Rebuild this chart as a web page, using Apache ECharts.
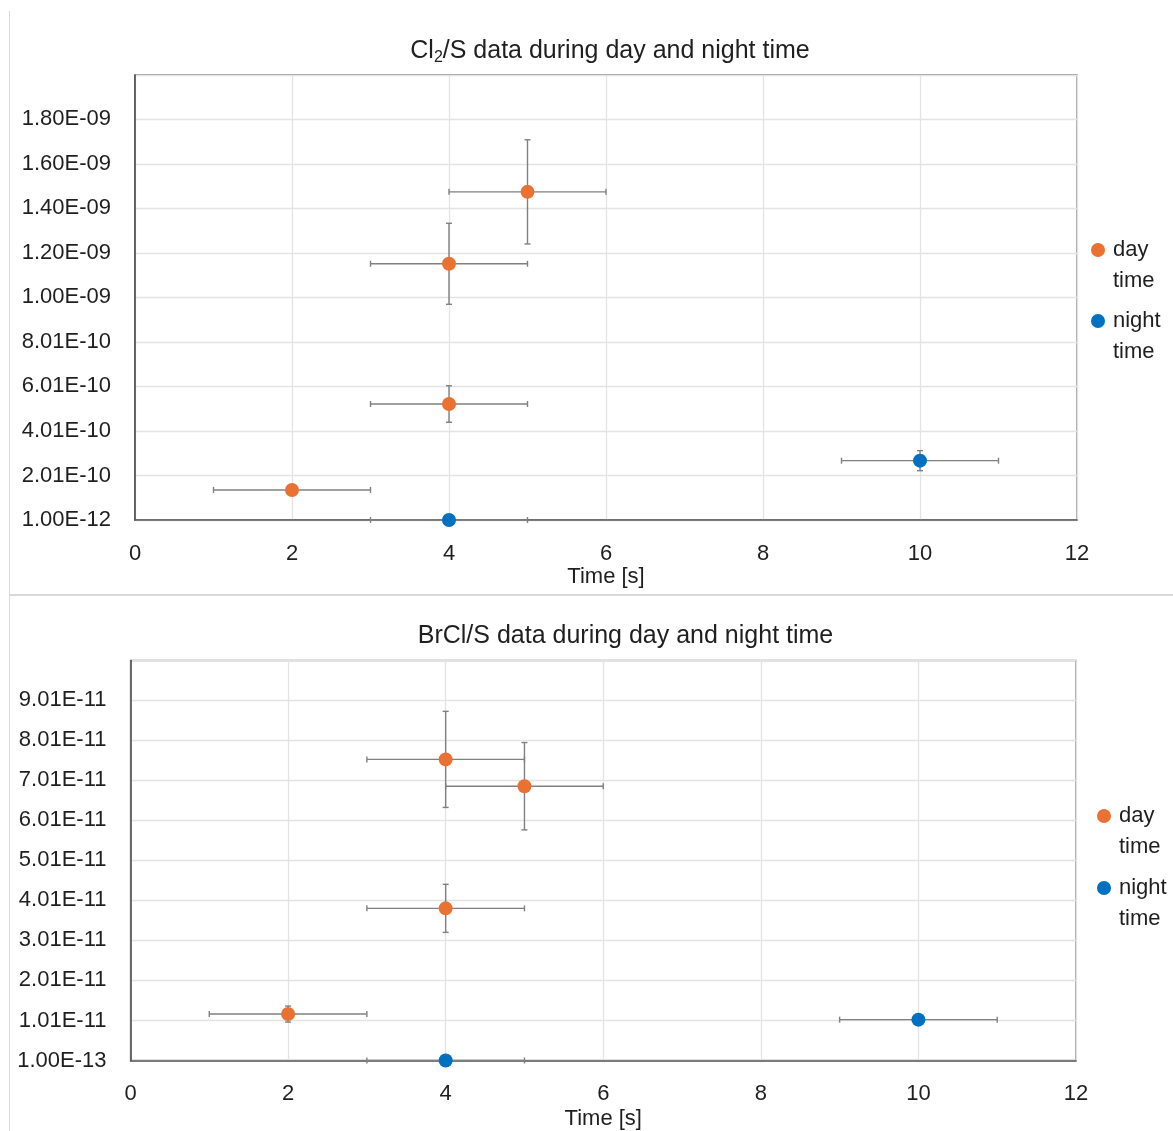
<!DOCTYPE html>
<html>
<head>
<meta charset="utf-8">
<script src="https://cdn.jsdelivr.net/npm/echarts@6/dist/echarts.min.js"></script>
<style>
  html, body { margin: 0; padding: 0; background: #ffffff; }
  #chart { width: 1173px; height: 1131px; }
</style>
</head>
<body>
<div id="chart"></div>
<script>
// ---- Shared time axis ----
const timeTicks = [0, 2, 4, 6, 8, 10, 12];

// ---- Cl2/S panel ----
const cl2DayX = [2, 4, 4, 5];
const cl2DayY = [1.36e-10, 5.22e-10, 1.152e-9, 1.475e-9];
const cl2DayXErr = [1, 1, 1, 1];
const cl2DayYErr = [0, 8.2e-11, 1.82e-10, 2.34e-10];
const cl2NightX = [4, 10];
const cl2NightY = [1e-12, 2.675e-10];
const cl2NightXErr = [1, 1];
const cl2NightYErr = [0, 4.5e-11];
const cl2AxisMin = 1e-12;
const cl2AxisMax = 2e-9;
const cl2AxisStep = 2e-10;
const cl2YLabels = ['1.00E-12', '2.01E-10', '4.01E-10', '6.01E-10', '8.01E-10',
                    '1.00E-09', '1.20E-09', '1.40E-09', '1.60E-09', '1.80E-09'];

// ---- BrCl/S panel ----
const brclDayX = [2, 4, 4, 5];
const brclDayY = [1.17e-11, 3.81e-11, 7.53e-11, 6.86e-11];
const brclDayXErr = [1, 1, 1, 1];
const brclDayYErr = [2e-12, 6e-12, 1.2e-11, 1.09e-11];
const brclNightX = [4, 10];
const brclNightY = [1e-13, 1.03e-11];
const brclNightXErr = [1, 1];
const brclNightYErr = [0, 0];
const brclAxisMin = 1e-13;
const brclAxisMax = 1e-10;
const brclAxisStep = 1e-11;
const brclYLabels = ['1.00E-13', '1.01E-11', '2.01E-11', '3.01E-11', '4.01E-11',
                     '5.01E-11', '6.01E-11', '7.01E-11', '8.01E-11', '9.01E-11'];

const seriesNames = ['day time', 'night time'];
const seriesColors = ['#E97132', '#0070C0'];

const FONT = "'Liberation Sans', Arial, sans-serif";
const TEXT = '#1f1f1f';

function sciLabel(v) {
  const s = v.toExponential(2).toUpperCase();
  return s.replace(/E([+-])(\d)$/, 'E$10$2');
}

// Cross-shaped error bars with end caps, mapped through the axes.
function errorBars(name, xs, ys, xe, ye, gi) {
  return {
    type: 'custom',
    name: name,
    xAxisIndex: gi,
    yAxisIndex: gi,
    silent: true,
    z: 2,
    data: xs.map((x, i) => [x, ys[i], xe[i], ye[i]]),
    encode: { x: 0, y: 1 },
    renderItem: function (params, api) {
      const x = api.value(0), y = api.value(1), dx = api.value(2), dy = api.value(3);
      const style = { stroke: '#808080', lineWidth: 1.4 };
      const cap = 3;
      const kids = [];
      const seg = (x1, y1, x2, y2) => kids.push({ type: 'line', shape: { x1, y1, x2, y2 }, style });
      if (dx > 0) {
        const a = api.coord([x - dx, y]), b = api.coord([x + dx, y]);
        seg(a[0], a[1], b[0], b[1]);
        seg(a[0], a[1] - cap, a[0], a[1] + cap);
        seg(b[0], b[1] - cap, b[0], b[1] + cap);
      }
      if (dy > 0) {
        const a = api.coord([x, y - dy]), b = api.coord([x, y + dy]);
        seg(a[0], a[1], b[0], b[1]);
        seg(a[0] - cap, a[1], a[0] + cap, a[1]);
        seg(b[0] - cap, b[1], b[0] + cap, b[1]);
      }
      return { type: 'group', children: kids };
    }
  };
}

function points(name, color, xs, ys, gi) {
  return {
    type: 'scatter',
    name: name,
    xAxisIndex: gi,
    yAxisIndex: gi,
    symbol: 'circle',
    symbolSize: 14,
    z: 3,
    itemStyle: { color: color, opacity: 1 },
    data: xs.map((x, i) => [x, ys[i]])
  };
}

function xAxisFor(gi, labelMargin, nameGap) {
  return {
    gridIndex: gi,
    type: 'value',
    min: timeTicks[0],
    max: timeTicks[timeTicks.length - 1],
    interval: timeTicks[1] - timeTicks[0],
    name: 'Time [s]',
    nameLocation: 'middle',
    nameGap: nameGap,
    nameTextStyle: { fontSize: 22, color: TEXT, fontFamily: FONT },
    axisLine: { show: true, onZero: false, lineStyle: { color: '#595959', width: 1.5 } },
    axisTick: { show: false },
    splitLine: { show: true, lineStyle: { color: '#e3e3e3', width: 1.3 } },
    axisLabel: { fontSize: 22, color: TEXT, fontFamily: FONT, margin: labelMargin }
  };
}

function yAxisFor(gi, min, max, step, labels) {
  return {
    gridIndex: gi,
    type: 'value',
    min: min,
    max: max,
    interval: step,
    axisLine: { show: true, onZero: false, lineStyle: { color: '#404040', width: 1.5 } },
    axisTick: { show: false },
    splitLine: { show: true, lineStyle: { color: '#e3e3e3', width: 1.3 } },
    axisLabel: {
      fontSize: 22, color: TEXT, fontFamily: FONT, margin: 24,
      showMinLabel: true, showMaxLabel: false,
      formatter: (v, i) => (labels[i] !== undefined ? labels[i] : sciLabel(v))
    }
  };
}

// Legend icon: a dot placed on the first line of a two-line label.
const legendIcon = 'path://M0 15.5A7 7 0 1 0 14 15.5A7 7 0 1 0 0 15.5Z M7 0L7 0 M7 62L7 62';

function legendAt(left, top, gap) {
  return {
    data: seriesNames,
    orient: 'vertical',
    left: left,
    top: top,
    padding: 0,
    itemGap: gap,
    itemWidth: 14,
    itemHeight: 62,
    icon: legendIcon,
    selectedMode: false,
    formatter: n => n.replace(' ', '\n'),
    textStyle: { fontSize: 22, lineHeight: 31, color: TEXT, fontFamily: FONT, padding: [0, 0, 0, 3] }
  };
}

function titleText(x, y, rich) {
  return {
    type: 'text',
    x: x,
    y: y,
    style: {
      text: rich,
      align: 'center',
      verticalAlign: 'middle',
      rich: {
        m: { fontSize: 25, lineHeight: 30, fill: TEXT, fontFamily: FONT },
        s: { fontSize: 16, lineHeight: 14, fill: TEXT, fontFamily: FONT, verticalAlign: 'bottom' }
      }
    }
  };
}

const chart = echarts.init(document.getElementById('chart'), null, { renderer: 'canvas' });

chart.setOption({
  animation: false,
  backgroundColor: '#ffffff',
  grid: [
    { left: 135, top: 75, right: 96, height: 445, show: true, borderColor: '#7f7f7f', borderWidth: 1.3,
      backgroundColor: '#ffffff', outerBoundsMode: 'none', containLabel: false },
    { left: 130.5, top: 660.5, right: 97, height: 400, show: true, borderColor: '#7f7f7f', borderWidth: 1.3,
      backgroundColor: '#ffffff', outerBoundsMode: 'none', containLabel: false }
  ],
  xAxis: [xAxisFor(0, 23, 44), xAxisFor(1, 22, 47)],
  yAxis: [
    yAxisFor(0, cl2AxisMin, cl2AxisMax, cl2AxisStep, cl2YLabels),
    yAxisFor(1, brclAxisMin, brclAxisMax, brclAxisStep, brclYLabels)
  ],
  legend: [legendAt(1091, 234.5, 9), legendAt(1097, 800.5, 10)],
  graphic: [
    { type: 'line', shape: { x1: 9.5, y1: 11, x2: 9.5, y2: 1131 }, style: { stroke: '#d9d9d9', lineWidth: 1 } },
    { type: 'line', shape: { x1: 9, y1: 595, x2: 1173, y2: 595 }, style: { stroke: '#d9d9d9', lineWidth: 2 } },
    titleText(610, 51, '{m|Cl}{s|2}{m|/S data during day and night time}'),
    titleText(625.5, 636, '{m|BrCl/S data during day and night time}')
  ],
  series: [
    errorBars('day time error', cl2DayX, cl2DayY, cl2DayXErr, cl2DayYErr, 0),
    errorBars('night time error', cl2NightX, cl2NightY, cl2NightXErr, cl2NightYErr, 0),
    points(seriesNames[0], seriesColors[0], cl2DayX, cl2DayY, 0),
    points(seriesNames[1], seriesColors[1], cl2NightX, cl2NightY, 0),
    errorBars('day time error', brclDayX, brclDayY, brclDayXErr, brclDayYErr, 1),
    errorBars('night time error', brclNightX, brclNightY, brclNightXErr, brclNightYErr, 1),
    points(seriesNames[0], seriesColors[0], brclDayX, brclDayY, 1),
    points(seriesNames[1], seriesColors[1], brclNightX, brclNightY, 1)
  ]
});
</script>
</body>
</html>
